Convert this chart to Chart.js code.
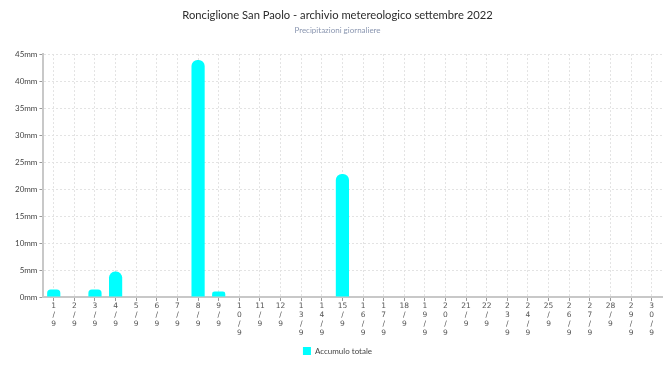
<!DOCTYPE html>
<html>
<head>
<meta charset="utf-8">
<script src="https://cdn.jsdelivr.net/npm/chart.js@4"></script>
<style>
  html, body { margin: 0; padding: 0; background: #fff; }
  #wrap { width: 668px; height: 368px; }
</style>
</head>
<body>
<div id="wrap"><canvas id="chart1" width="668" height="368"></canvas></div>
<script>
// giorni di settembre, etichette spezzate come nell'originale
const giorni = [
  ['1', '/', '9'], ['2', '/', '9'], ['3', '/', '9'], ['4', '/', '9'], ['5', '/', '9'],
  ['6', '/', '9'], ['7', '/', '9'], ['8', '/', '9'], ['9', '/', '9'], ['1', '0', '/', '9'],
  ['11', '/', '9'], ['12', '/', '9'], ['1', '3', '/', '9'], ['1', '4', '/', '9'], ['15', '/', '9'],
  ['1', '6', '/', '9'], ['1', '7', '/', '9'], ['18', '/', '9'], ['1', '9', '/', '9'], ['2', '0', '/', '9'],
  ['21', '/', '9'], ['22', '/', '9'], ['2', '3', '/', '9'], ['2', '4', '/', '9'], ['25', '/', '9'],
  ['2', '6', '/', '9'], ['2', '7', '/', '9'], ['28', '/', '9'], ['2', '9', '/', '9'], ['3', '0', '/', '9']
];

// precipitazioni in mm
const accumulo = [
  1.4, 0, 1.4, 4.7, 0, 0, 0, 43.9, 1.0, 0,
  0, 0, 0, 0, 22.8, 0, 0, 0, 0, 0,
  0, 0, 0, 0, 0, 0, 0, 0, 0, 0
];

const yMax = 45;
const yStep = 5;

const data = {
  labels: giorni,
  datasets: [{
    label: 'Accumulo totale',
    data: accumulo,
    backgroundColor: '#00ffff',
    borderWidth: 0,
    borderRadius: { topLeft: 6, topRight: 6, bottomLeft: 0, bottomRight: 0 },
    borderSkipped: 'bottom',
    barPercentage: 0.64,
    categoryPercentage: 1.0
  }]
};

const config = {
  type: 'bar',
  data: data,
  options: {
    responsive: false,
    animation: false,
    layout: { padding: { left: 13, right: 6, top: 0, bottom: 3 } },
    plugins: {
      title: {
        display: true,
        text: 'Ronciglione San Paolo - archivio metereologico settembre 2022',
        color: '#2b2b2b',
        font: { family: 'Lato', size: 11.2, weight: 'normal' },
        padding: { top: 9, bottom: 3 }
      },
      subtitle: {
        display: true,
        text: 'Precipitazioni giornaliere',
        color: '#8a96b0',
        font: { family: 'Lato', size: 8 },
        padding: { top: 0, bottom: 19 }
      },
      legend: {
        position: 'bottom',
        labels: {
          boxWidth: 8,
          boxHeight: 8,
          color: '#444',
          font: { family: 'Lato', size: 8 },
          padding: 8
        }
      },
      tooltip: { enabled: false }
    },
    scales: {
      x: {
        grid: {
          offset: false,
          color: '#e3e3e3',
          tickColor: '#999',
          tickLength: 4,
          lineWidth: 1
        },
        border: { display: true, color: '#c8c8c8', width: 2, dash: [2, 2] },
        ticks: {
          color: '#555',
          font: { family: 'DejaVu Sans', size: 7.5, lineHeight: 1.2 },
          maxRotation: 0,
          autoSkip: false,
          padding: 1
        }
      },
      y: {
        beginAtZero: true,
        min: 0,
        max: yMax,
        grid: {
          color: '#e3e3e3',
          tickColor: '#999',
          tickLength: 4,
          lineWidth: 1
        },
        border: { display: true, color: '#c8c8c8', width: 2, dash: [2, 2] },
        ticks: {
          stepSize: yStep,
          color: '#444',
          font: { family: 'Lato', size: 8 },
          padding: 2,
          callback: v => v + 'mm'
        }
      }
    }
  }
};

const chart1 = new Chart(document.getElementById('chart1'), config);
</script>
</body>
</html>
